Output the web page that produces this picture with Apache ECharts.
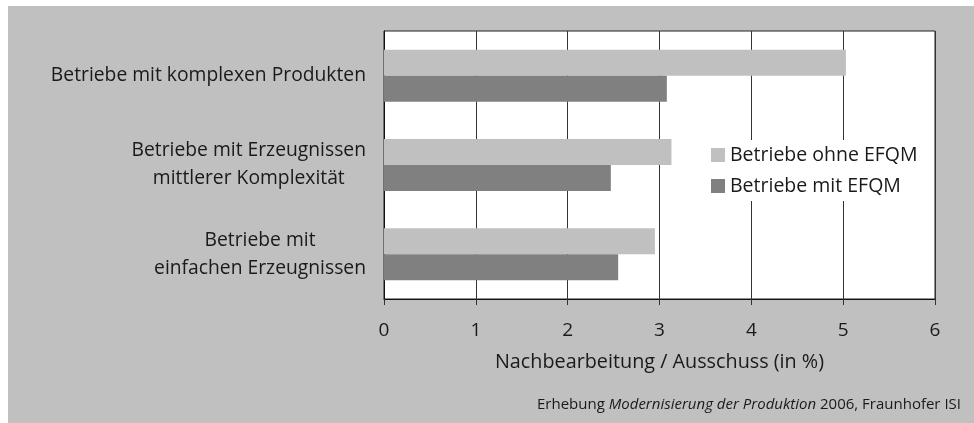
<!DOCTYPE html>
<html>
<head>
<meta charset="utf-8">
<script src="https://cdn.jsdelivr.net/npm/echarts@6/dist/echarts.min.js"></script>
<style>
  html, body { margin: 0; padding: 0; background: #fff; }
  #wrap { position: relative; width: 974px; height: 423px; background: #fff; }
  #chart-container { position: absolute; left: 8px; top: 6px; width: 966px; height: 417px; }
</style>
</head>
<body>
<div id="wrap"><div id="chart-container"></div></div>
<script>
// Kategorien (von oben nach unten)
const categories = [
  'Betriebe mit komplexen Produkten',
  'Betriebe mit Erzeugnissen\nmittlerer Komplexität',
  'Betriebe mit\neinfachen Erzeugnissen'
];
const seriesNames = ['Betriebe ohne EFQM', 'Betriebe mit EFQM'];
const ohneEfqm = [5.03, 3.13, 2.95];
const mitEfqm = [3.08, 2.47, 2.55];
const xTicks = [0, 1, 2, 3, 4, 5, 6];
const axisTitle = 'Nachbearbeitung / Ausschuss (in %)';
const sourceParts = ['Erhebung ', 'Modernisierung der Produktion', ' 2006, Fraunhofer ISI'];

const FONT = '"Open Sans", "Noto Sans", sans-serif';
const TEXT = '#1a1a1a';

var dom = document.getElementById('chart-container');
var myChart = echarts.init(dom, null, { renderer: 'canvas' });

var option = {
  backgroundColor: '#c0c0c0',
  animation: false,
  textStyle: { fontFamily: FONT, color: TEXT },
  title: {
    right: 8,
    top: 386,
    text: '{n|' + sourceParts[0] + '}{i|' + sourceParts[1] + '}{n|' + sourceParts[2] + '}',
    textStyle: {
      fontWeight: 'normal',
      rich: {
        n: { fontFamily: FONT, fontSize: 15, fontWeight: 'normal', color: TEXT },
        i: { fontFamily: FONT, fontSize: 15, fontWeight: 'normal', color: TEXT, fontStyle: 'italic' }
      }
    }
  },
  legend: {
    orient: 'vertical',
    left: 698,
    top: 134,
    icon: 'rect',
    itemWidth: 14,
    itemHeight: 14,
    itemGap: 11,
    data: seriesNames,
    textStyle: { fontFamily: FONT, fontSize: 19.5, color: TEXT },
    backgroundColor: '#fff'
  },
  grid: {
    left: 376,
    right: 39,
    top: 25,
    bottom: 124,
    show: true,
    backgroundColor: '#fff',
    borderColor: '#222',
    borderWidth: 1
  },
  xAxis: {
    type: 'value',
    min: xTicks[0],
    max: xTicks[xTicks.length - 1],
    interval: 1,
    name: axisTitle,
    nameLocation: 'middle',
    nameGap: 53,
    nameTextStyle: { fontFamily: FONT, fontSize: 19.8, color: TEXT },
    axisLine: { show: true, lineStyle: { color: '#111', width: 1 } },
    axisTick: { show: true, length: 6, lineStyle: { color: '#333' } },
    axisLabel: { fontFamily: FONT, fontSize: 19, color: TEXT, margin: 22 },
    splitLine: { show: true, lineStyle: { color: '#333', width: 1 } }
  },
  yAxis: {
    type: 'category',
    inverse: true,
    data: categories,
    axisLine: { show: true, lineStyle: { color: '#111', width: 1 } },
    axisTick: { show: false },
    axisLabel: {
      margin: 18,
      align: 'right',
      formatter: function (value) {
        return value.split('\n').map(s => '{c|' + s + '}').join('\n');
      },
      rich: {
        c: { align: 'center', fontFamily: FONT, fontSize: 19.3, lineHeight: 28, color: TEXT }
      }
    }
  },
  series: [
    {
      name: seriesNames[0],
      type: 'bar',
      data: ohneEfqm,
      barWidth: 26,
      barGap: '0%',
      itemStyle: { color: '#c0c0c0' }
    },
    {
      name: seriesNames[1],
      type: 'bar',
      data: mitEfqm,
      barWidth: 26,
      barGap: '0%',
      itemStyle: { color: '#808080' }
    }
  ]
};

myChart.setOption(option);
</script>
</body>
</html>
